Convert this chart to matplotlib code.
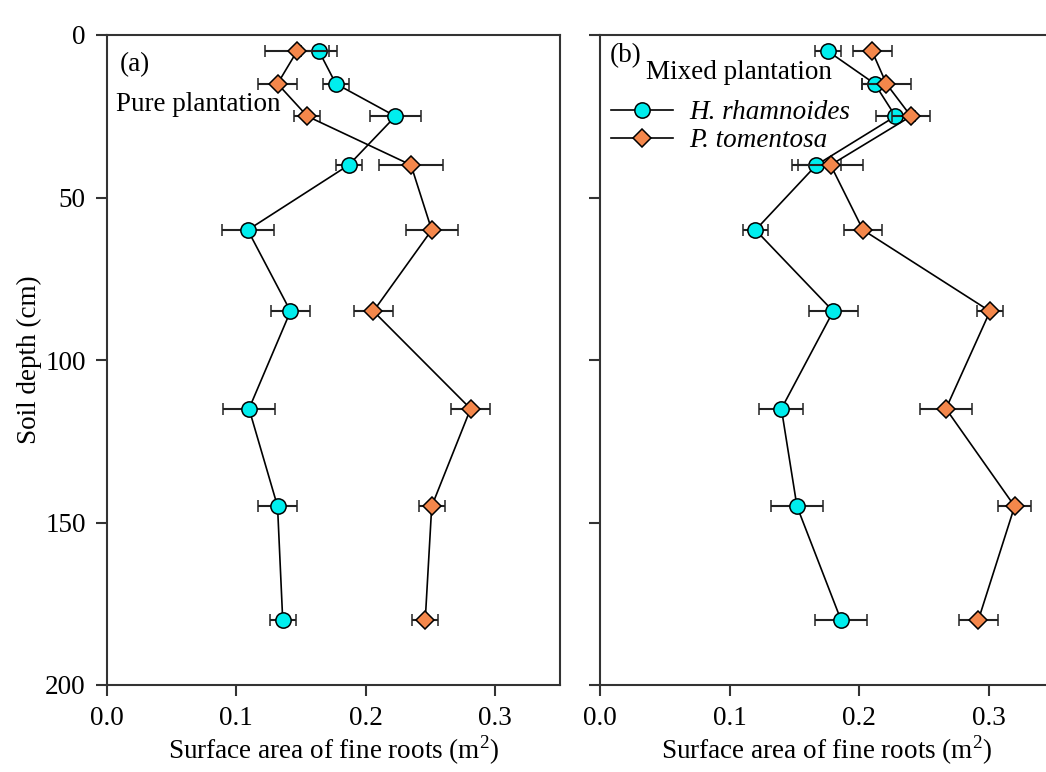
import matplotlib
matplotlib.use("Agg")
import matplotlib.pyplot as plt
from matplotlib.ticker import FixedLocator, FuncFormatter
from matplotlib.lines import Line2D

plt.rcParams['font.family'] = ['Liberation Serif', 'DejaVu Serif']
plt.rcParams['mathtext.fontset'] = 'custom'
plt.rcParams['mathtext.rm'] = 'Liberation Serif'

depth = [5, 15, 25, 40, 60, 85, 115, 145, 180]

# Pure plantation (a)
pure_hr = [0.164, 0.177, 0.223, 0.187, 0.109, 0.142, 0.110, 0.132, 0.136]
pure_hr_se = [0.014, 0.010, 0.020, 0.010, 0.020, 0.015, 0.020, 0.015, 0.010]
pure_pt = [0.147, 0.132, 0.155, 0.235, 0.251, 0.206, 0.281, 0.251, 0.246]
pure_pt_se = [0.025, 0.015, 0.010, 0.025, 0.020, 0.015, 0.015, 0.010, 0.010]

# Mixed plantation (b)
mix_hr = [0.176, 0.212, 0.228, 0.167, 0.120, 0.180, 0.140, 0.152, 0.186]
mix_hr_se = [0.010, 0.010, 0.015, 0.019, 0.010, 0.019, 0.017, 0.020, 0.020]
mix_pt = [0.210, 0.221, 0.240, 0.178, 0.203, 0.301, 0.267, 0.320, 0.292]
mix_pt_se = [0.015, 0.019, 0.015, 0.025, 0.015, 0.010, 0.020, 0.013, 0.015]

labels_species = ['H. rhamnoides', 'P. tomentosa']
xticks = [0.0, 0.1, 0.2, 0.3]
yticks = [0, 50, 100, 150, 200]

CYAN = '#00EEEE'
ORANGE = '#F4874B'
FS = 19.5

fig = plt.figure(figsize=(10.46, 7.72), dpi=100)
W, H = 1046, 772
axL = fig.add_axes([106.5 / W, 1 - 685 / H, (560 - 106.5) / W, 650 / H])
axR = fig.add_axes([600 / W, 1 - 685 / H, (560 - 106.5) / W, 650 / H])

MS_O = 11
MS_D = 9.2


def draw(ax, hr, hr_se, pt, pt_se):
    ax.errorbar(hr, depth, xerr=hr_se, color='black', lw=1.2, marker='o',
                ms=MS_O, mfc=CYAN, mec='black', mew=1.1, ecolor='#222222',
                elinewidth=1.5, capsize=4.3, capthick=1.5, zorder=3)
    ax.errorbar(pt, depth, xerr=pt_se, color='black', lw=1.2, marker='D',
                ms=MS_D, mfc=ORANGE, mec='black', mew=1.1, ecolor='#222222',
                elinewidth=1.5, capsize=4.3, capthick=1.5, zorder=4)
    ax.set_xlim(0, 0.35)
    ax.set_ylim(200, 0)
    ax.xaxis.set_major_locator(FixedLocator(xticks))
    ax.xaxis.set_major_formatter(FuncFormatter(lambda v, p: f"{v:.1f}"))
    ax.yaxis.set_major_locator(FixedLocator(yticks))
    ax.tick_params(direction='out', length=8, width=1.5, labelsize=FS,
                   colors='#333333', labelcolor='black', pad=7)
    for s in ax.spines.values():
        s.set_linewidth(1.5)
        s.set_color('#333333')
    ax.set_xlabel('Surface area of fine roots (m$^2$)', fontsize=FS, labelpad=2)


draw(axL, pure_hr, pure_hr_se, pure_pt, pure_pt_se)
draw(axR, mix_hr, mix_hr_se, mix_pt, mix_pt_se)

axL.set_ylabel('Soil depth (cm)', fontsize=FS, labelpad=2)
axR.tick_params(axis='y', labelleft=False)

axL.text(0.030, 0.955, '(a)', transform=axL.transAxes, fontsize=FS, va='center', ha='left')
axL.text(0.020, 0.893, 'Pure plantation', transform=axL.transAxes, fontsize=FS, va='center', ha='left')
axR.text(0.022, 0.968, '(b)', transform=axR.transAxes, fontsize=FS, va='center', ha='left')
axR.text(0.102, 0.942, 'Mixed plantation', transform=axR.transAxes, fontsize=FS, va='center', ha='left')

handles = [
    Line2D([], [], color='black', lw=1.2, marker='o', ms=MS_O, mfc=CYAN,
           mec='black', mew=1.1),
    Line2D([], [], color='black', lw=1.2, marker='D', ms=MS_D, mfc=ORANGE,
           mec='black', mew=1.1),
]
leg = axR.legend(handles, labels_species, loc='upper left',
                 bbox_to_anchor=(0.024, 0.900), frameon=False,
                 prop={'style': 'italic', 'size': FS},
                 handlelength=2.3, handletextpad=0.6, labelspacing=0.12,
                 borderaxespad=0.0, borderpad=0.0)

fig.savefig('out.png', dpi=100)
